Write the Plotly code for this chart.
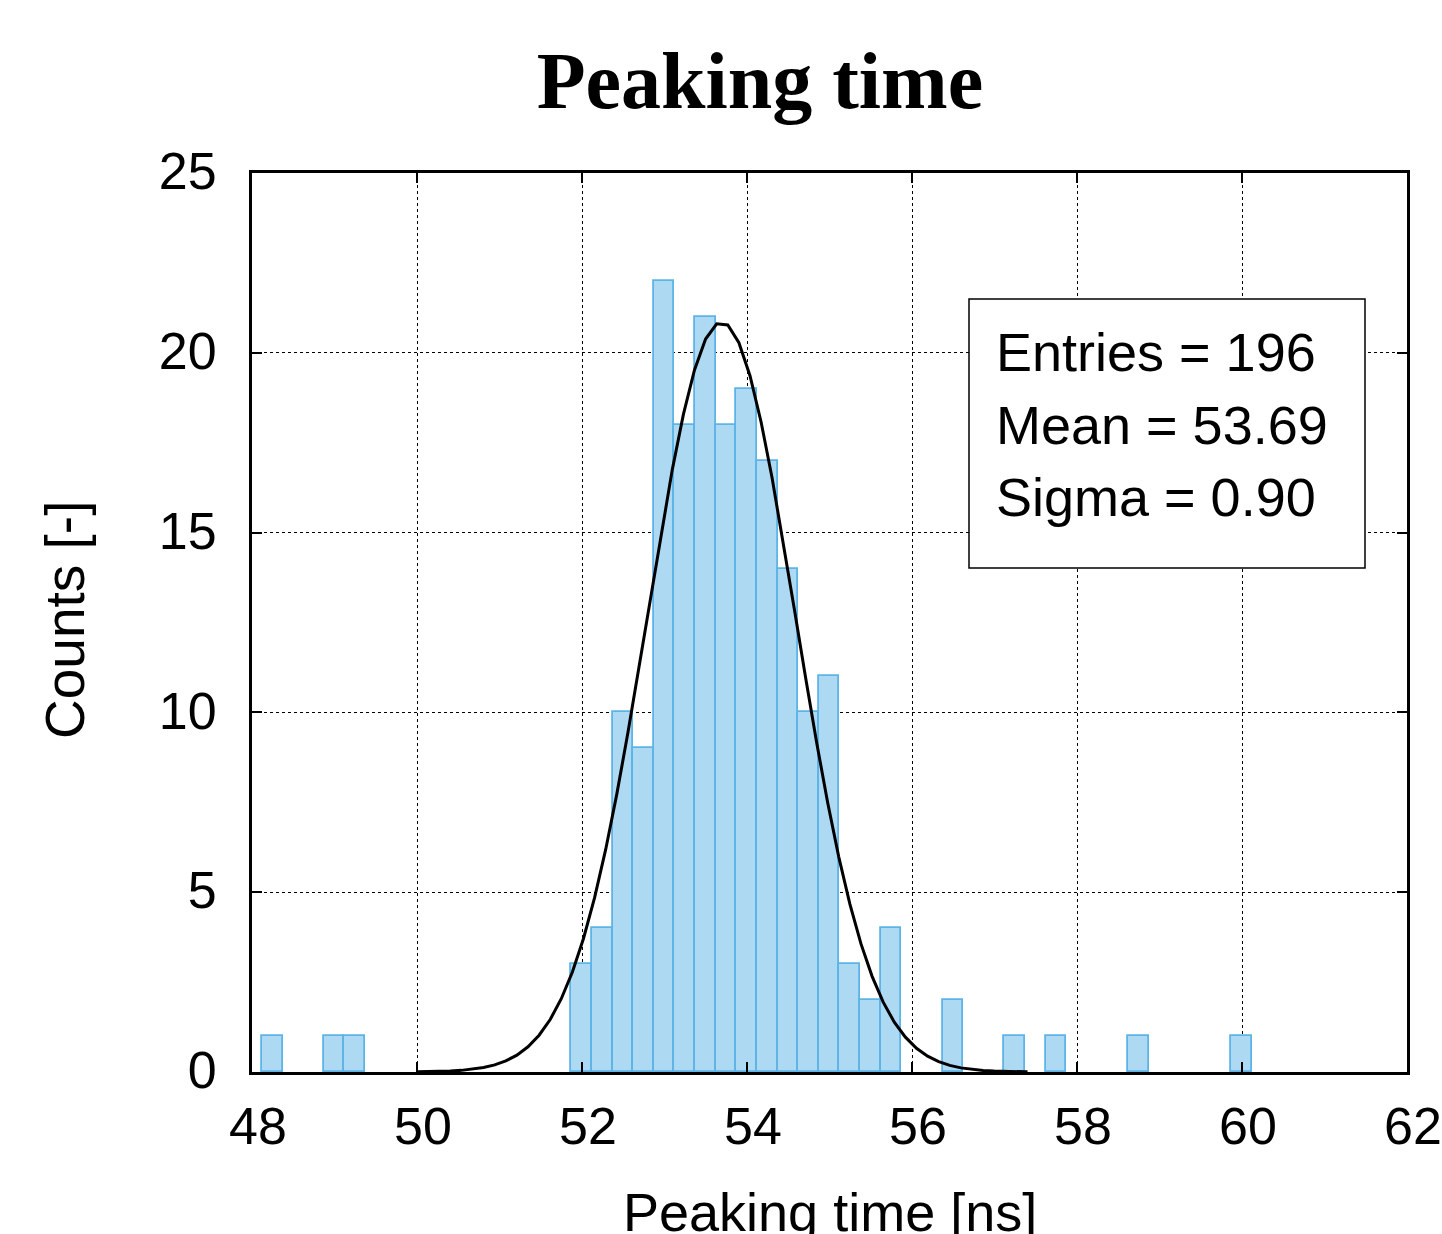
import numpy as np
import plotly.graph_objects as go

# Histogram data (bin left edges, bin width 0.25 ns) and counts
bin_left = [48.12, 48.87, 49.12, 51.87, 52.12, 52.37, 52.62, 52.87, 53.12, 53.37,
            53.62, 53.87, 54.12, 54.37, 54.62, 54.87, 55.12, 55.37, 55.62,
            56.37, 57.12, 57.62, 58.62, 59.87]
counts = [1, 1, 1, 3, 4, 10, 9, 22, 18, 21,
          18, 19, 17, 14, 10, 11, 3, 2, 4,
          2, 1, 1, 1, 1]
bin_width = 0.25

# Gaussian fit parameters
fit_amp = 20.85
fit_mean = 53.69
fit_sigma = 0.90
fit_range = (50.0, 57.4)
entries = 196

stat_lines = [f"Entries = {entries}", f"Mean = {fit_mean:.2f}", f"Sigma = {fit_sigma:.2f}"]

x_ticks = [48, 50, 52, 54, 56, 58, 60, 62]
y_ticks = [0, 5, 10, 15, 20, 25]

fx = np.linspace(fit_range[0], fit_range[1], 56)
fy = fit_amp * np.exp(-0.5 * ((fx - fit_mean) / fit_sigma) ** 2)

fig = go.Figure()
fig.add_trace(go.Bar(
    x=[b + bin_width / 2 for b in bin_left], y=counts, width=bin_width,
    marker=dict(color="rgb(173,217,243)", line=dict(color="rgb(94,180,230)", width=1.8)),
    showlegend=False,
))
fig.add_trace(go.Scatter(
    x=fx, y=fy, mode="lines", line=dict(color="black", width=3), showlegend=False,
))

tickfont = dict(family="Liberation Sans, Arial, sans-serif", size=52, color="black")

L, R, T, B = 252, 35, 173, 162
W, H = 1442, 1234
pw, ph = W - L - R, H - T - B

def px(xp):
    return (xp - L) / pw

def py(yp):
    return (H - B - yp) / ph

fig.update_layout(
    width=W, height=H,
    margin=dict(l=L, r=R, t=T, b=B, autoexpand=False),
    plot_bgcolor="white", paper_bgcolor="white",
    bargap=0,
    title=dict(text="<b>Peaking time</b>", x=0.527, xanchor="center", xref="container",
               y=1 - 80 / H, yanchor="middle", yref="container",
               font=dict(family="Liberation Serif, Times New Roman, serif", size=80, color="black")),
    xaxis=dict(range=[48, 62], tickvals=x_ticks, ticktext=[str(v) for v in x_ticks],
               showgrid=True, gridcolor="black", griddash="dot", gridwidth=1,
               ticks="inside", ticklen=10, tickwidth=1.5, tickcolor="black",
               showline=True, linecolor="black", linewidth=3, mirror="ticks",
               tickfont=tickfont, ticklabelstandoff=7, ticklabelshift=6,
               ticklabeloverflow="allow", automargin=False, zeroline=False),
    yaxis=dict(range=[0, 25], tickvals=y_ticks, ticktext=[str(v) for v in y_ticks],
               showgrid=True, gridcolor="black", griddash="dot", gridwidth=1,
               ticks="inside", ticklen=10, tickwidth=1.5, tickcolor="black",
               showline=True, linecolor="black", linewidth=3, mirror="ticks",
               tickfont=tickfont, ticklabelstandoff=22, ticklabelshift=-2,
               ticklabeloverflow="allow", automargin=False, zeroline=False),
)

fig.add_annotation(text="Peaking time [ns]", xref="paper", yref="paper",
                   x=px(830), y=py(1212), showarrow=False,
                   xanchor="center", yanchor="middle",
                   font=dict(family="Liberation Sans, Arial, sans-serif", size=54, color="black"))
fig.add_annotation(text="Counts [-]", xref="paper", yref="paper",
                   x=px(65), y=py(620), showarrow=False, textangle=-90,
                   xanchor="center", yanchor="middle",
                   font=dict(family="Liberation Sans, Arial, sans-serif", size=55, color="black"))

# statistics box
fig.add_shape(type="rect", xref="paper", yref="paper",
              x0=px(969), x1=px(1365), y0=py(568), y1=py(299),
              line=dict(color="black", width=1.5), fillcolor="white", layer="above")
line_centers = [352, 425, 497]
for txt, yc in zip(stat_lines, line_centers):
    fig.add_annotation(text=txt, xref="paper", yref="paper",
                       x=px(994), y=py(yc), showarrow=False,
                       xanchor="left", yanchor="middle",
                       font=dict(family="Liberation Sans, Arial, sans-serif", size=54, color="black"))

fig.write_html("out.html")
